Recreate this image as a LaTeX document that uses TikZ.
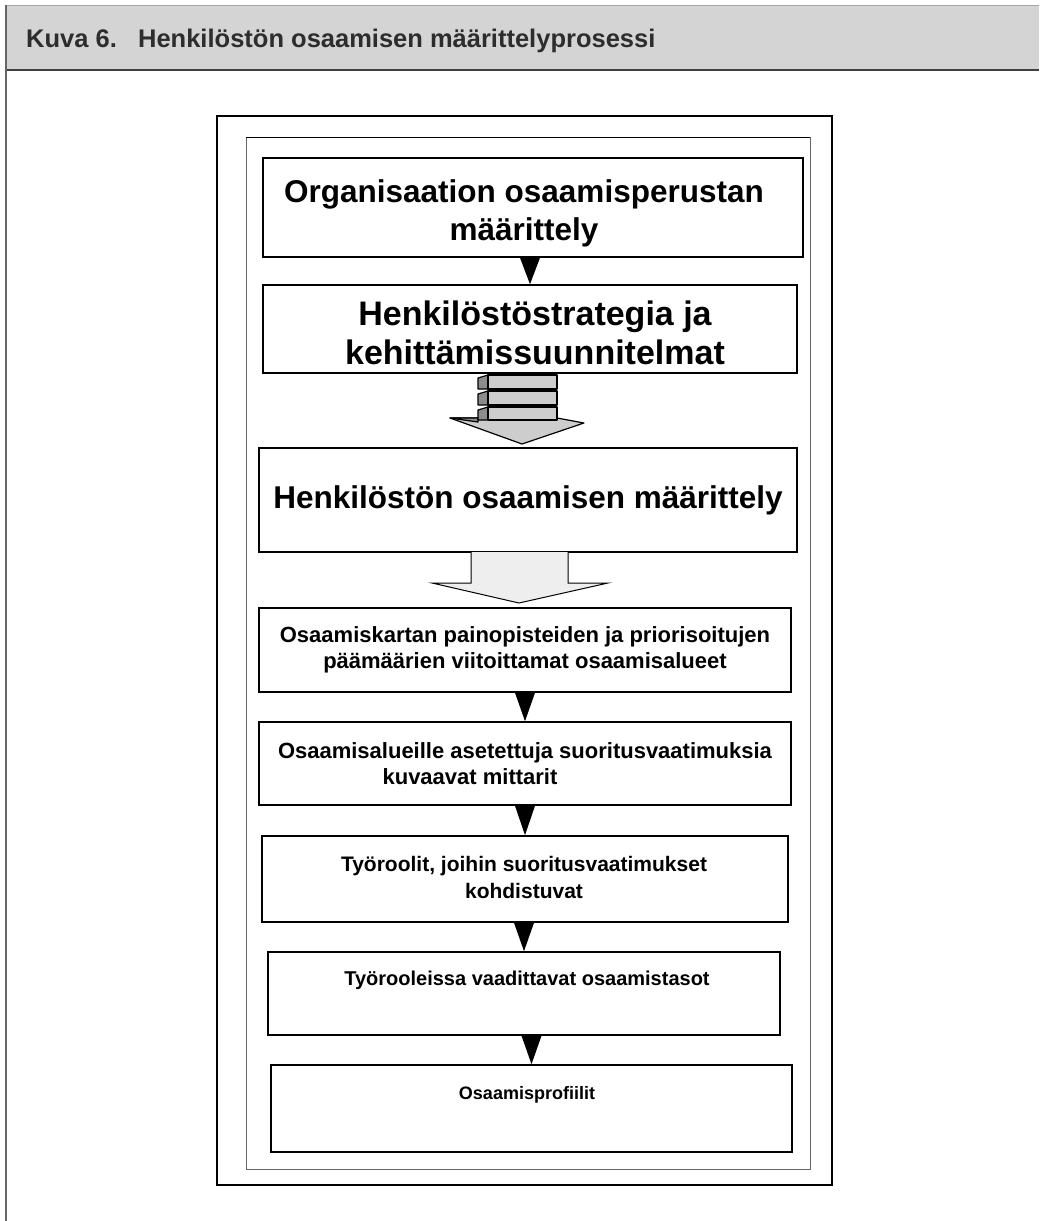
\documentclass[tikz,border=0pt]{standalone}
\usepackage{fontspec}
\setmainfont{Liberation Sans}
\usetikzlibrary{calc}
\definecolor{hdrgray}{RGB}{212,212,212}
\definecolor{titlecol}{RGB}{45,45,45}
\definecolor{layerfront}{RGB}{205,205,205}
\definecolor{layerside}{RGB}{140,140,140}
\definecolor{lightarrow}{RGB}{238,238,238}
\tikzset{
  procbox/.style={draw=black, line width=1.6pt, fill=white, inner sep=0pt, align=center, anchor=center},
  bigtext/.style={font=\fontsize{31.5}{38}\selectfont\bfseries},
  smalltext/.style={font=\fontsize{22}{26}\selectfont\bfseries},
  stepdown/.style={fill=black},
}
\begin{document}
\begin{tikzpicture}[x=1pt,y=-1pt]
\useasboundingbox (0,0) rectangle (1039,1221);
% header
\fill[hdrgray] (5,5) rectangle (1039,70);
\draw[gray!70, line width=0.8pt] (5,5) -- (1039,5);
\draw[black!75, line width=1.2pt] (5,70) -- (1039,70);
\draw[black!60, line width=1.5pt] (6,5) -- (6,1221);
\node[anchor=base west, inner sep=0pt, text=titlecol, font=\fontsize{25.5}{28}\selectfont\bfseries] (title) at (26,47) {Kuva 6.\ \ \ Henkilöstön osaamisen määrittelyprosessi};
% frames
\draw[black, line width=1.6pt] (217,116) rectangle (832,1185);
\draw[gray!80!black, line width=1pt] (246,137) rectangle (810,1169);
\draw[black, line width=1pt] (246,137) -- (810,137);
% boxes
\node[procbox, minimum width=540pt, minimum height=99pt] (b1) at (533,207.5) {};
\node[bigtext, inner sep=0pt, align=center] (t1) at (524,213) {Organisaation osaamisperustan\\määrittely};
\node[procbox, minimum width=534pt, minimum height=88pt] (b2) at (530,329) {};
\node[font=\fontsize{34}{39}\selectfont\bfseries, inner sep=0pt, align=center] (t2) at (535,333) {Henkilöstöstrategia ja\\kehittämissuunnitelmat};
\node[procbox, bigtext, minimum width=538pt, minimum height=104pt] (b4) at (528,500) {Henkilöstön osaamisen määrittely};
\node[procbox, smalltext, minimum width=532pt, minimum height=84pt] (b6) at (525,650) {Osaamiskartan painopisteiden ja priorisoitujen\\päämäärien viitoittamat osaamisalueet};
\node[procbox, smalltext, minimum width=532pt, minimum height=83pt] (b7) at (525,763.5) {Osaamisalueille asetettuja suoritusvaatimuksia\\kuvaavat mittarit\hspace*{110pt}};
\node[procbox, minimum width=526pt, minimum height=86pt] (b8) at (525,879) {};
\node[font=\fontsize{21}{27}\selectfont\bfseries, inner sep=0pt, align=center] (t8) at (524,877) {Työroolit, joihin suoritusvaatimukset\\kohdistuvat};
\node[procbox, minimum width=512pt, minimum height=83pt] (b9) at (524,993.5) {};
\node[font=\fontsize{20}{24}\selectfont\bfseries, inner sep=0pt] (t9) at (527,980) {Työrooleissa vaadittavat osaamistasot};
\node[procbox, minimum width=521pt, minimum height=87pt] (b10) at (531.5,1108.5) {};
\node[font=\fontsize{18}{24}\selectfont\bfseries, inner sep=0pt] (t10) at (527,1095) {Osaamisprofiilit};
% small black arrows
\foreach \a/\b in {b1/b2, b6/b7, b7/b8, b8/b9, b9/b10}{
  \fill[stepdown] ($(\b.north |- \a.south)+(-10,0)$) -- ($(\b.north |- \a.south)+(10,0)$) -- (\b.north) -- cycle;
}
% 3D stacked arrow between b2 and b4
\begin{scope}[line width=1.2pt, draw=black, line join=round]
  \filldraw[fill=layerfront] (450,418) -- (478,418) -- (557,418) -- (584,423) -- (522,444) -- cycle;
  \filldraw[fill=layerside] (450,418) -- (478,418) -- (478,422) -- cycle;
  \foreach \ya/\yb in {375/389, 391/405, 407/420}{
    \filldraw[fill=layerside] (478,\ya+3) -- (488,\ya) -- (488,\yb) -- (478,\yb) -- cycle;
    \filldraw[fill=layerfront] (488,\ya) rectangle (557,\yb);
  }
\end{scope}
% light block arrow between b4 and b6
\filldraw[fill=lightarrow, draw=black, line width=1pt] (471,552) -- (471,583) -- (432,583) -- (519,603) -- (608,583) -- (568,583) -- (568,552);
\end{tikzpicture}
\end{document}
